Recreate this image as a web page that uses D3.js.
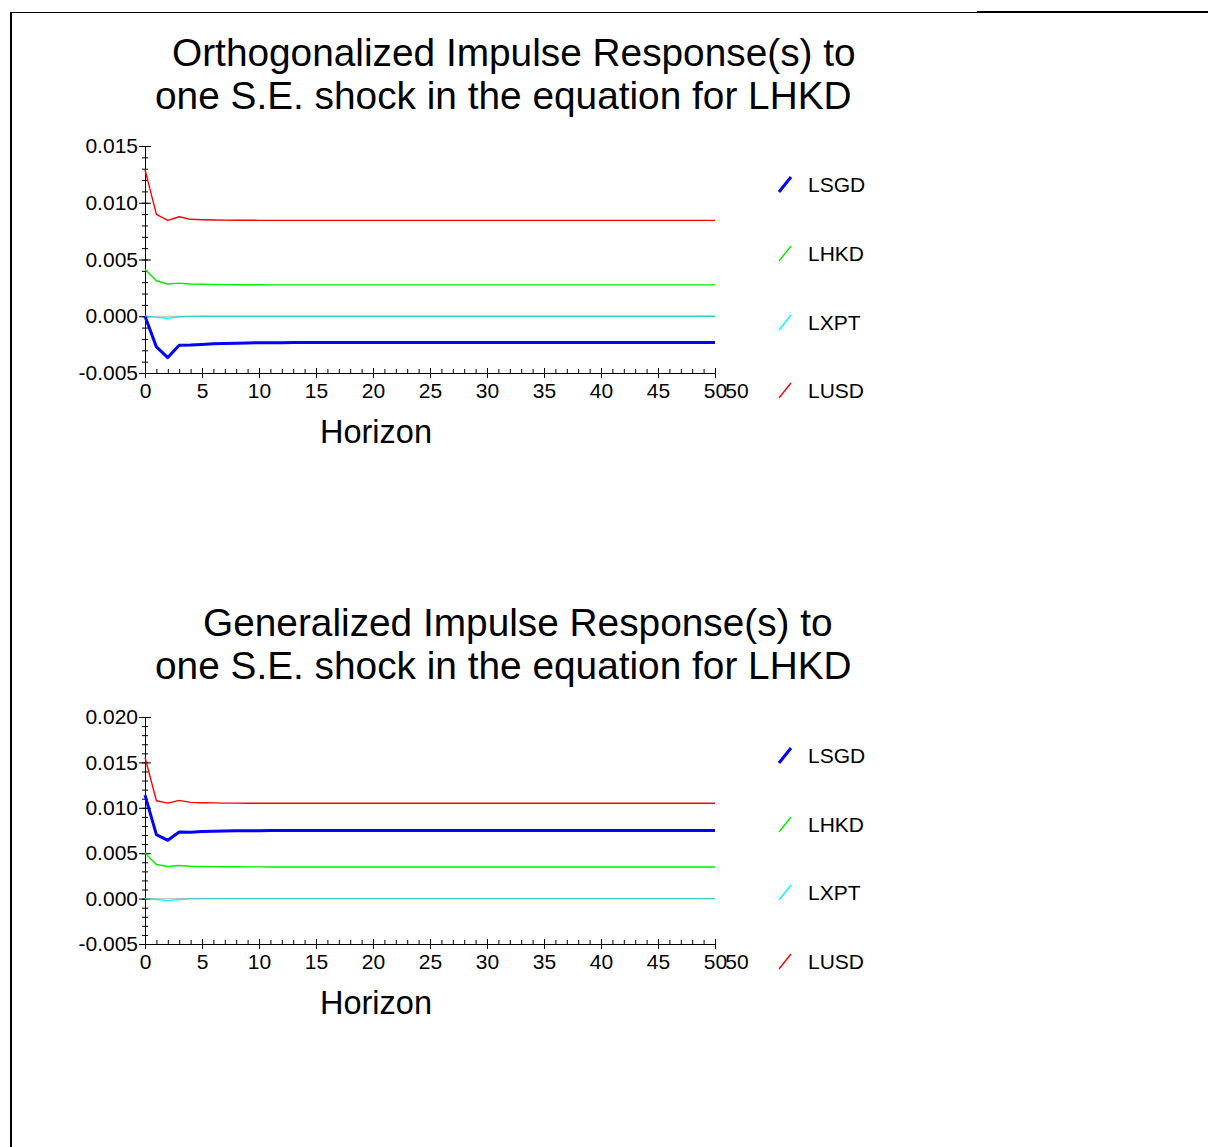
<!DOCTYPE html>
<html lang="en">
  <head>
    <meta charset="UTF-8" />
    <script src="https://d3js.org/d3.v7.min.js"></script>
    <title>Impulse Responses</title>
    <style>
      body { margin: 0; background: #fff; }
      svg text { font-family: "Liberation Sans", Arial, sans-serif; fill: #000; }
      .axis path, .axis line { stroke: #000; stroke-width: 1; }
    </style>
  </head>
  <body>
    <svg width="1208" height="1147"></svg>
    <script type="text/javascript">
      // series names and colours (legend order)
      const seriesNames = ["LSGD", "LHKD", "LXPT", "LUSD"];
      const seriesColors = ["#0000ff", "#00ee00", "#00ffff", "#ff0000"];
      const seriesWidths = [3, 1.4, 1.4, 1.4];

      const xTicks = [0, 5, 10, 15, 20, 25, 30, 35, 40, 45, 50];
      const yTicksOrth = [-0.005, 0.0, 0.005, 0.01, 0.015];
      const yTicksGen = [-0.005, 0.0, 0.005, 0.01, 0.015, 0.02];

      // Orthogonalized responses, horizon 0..50
      const orthLSGD = [
        0, -0.0027, -0.00364, -0.00256, -0.00254, -0.00248, -0.00243, -0.0024, -0.00237, -0.00235,
        -0.00234, -0.00233, -0.00233, -0.00232, -0.00232, -0.00232, -0.00231, -0.00231, -0.00231, -0.00231,
        -0.00231, -0.00231, -0.00231, -0.00231, -0.00231, -0.00231, -0.00231, -0.00231, -0.00231, -0.00231,
        -0.00231, -0.00231, -0.00231, -0.00231, -0.00231, -0.00231, -0.00231, -0.00231, -0.00231, -0.00231,
        -0.00231, -0.00231, -0.00231, -0.00231, -0.00231, -0.00231, -0.00231, -0.00231, -0.00231, -0.00231,
        -0.00231
      ];
      const orthLHKD = [
        0.00415, 0.00313, 0.00284, 0.00292, 0.00284, 0.00282, 0.0028, 0.00279, 0.00278, 0.00277,
        0.00277, 0.00276, 0.00276, 0.00276, 0.00276, 0.00276, 0.00276, 0.00276, 0.00276, 0.00276,
        0.00276, 0.00276, 0.00276, 0.00276, 0.00276, 0.00276, 0.00276, 0.00276, 0.00276, 0.00276,
        0.00276, 0.00276, 0.00276, 0.00276, 0.00276, 0.00276, 0.00276, 0.00276, 0.00276, 0.00276,
        0.00276, 0.00276, 0.00276, 0.00276, 0.00276, 0.00276, 0.00276, 0.00276, 0.00276, 0.00276,
        0.00276
      ];
      const orthLXPT = [
        0, -0.0001, -0.00018, -0.00004, -0.00001, 0, 0, 0, 0, 0,
        0, 0, 0, 0, 0, 0, 0, 0, 0, 0,
        0, 0, 0, 0, 0, 0, 0, 0, 0, 0,
        0, 0, 0, 0, 0, 0, 0, 0, 0, 0,
        0, 0, 0, 0, 0, 0, 0, 0, 0, 0,
        0
      ];
      const orthLUSD = [
        0.01292, 0.00898, 0.00845, 0.00877, 0.00854, 0.0085, 0.00848, 0.00847, 0.00846, 0.00846,
        0.00845, 0.00845, 0.00845, 0.00845, 0.00845, 0.00845, 0.00845, 0.00845, 0.00845, 0.00845,
        0.00845, 0.00845, 0.00845, 0.00845, 0.00845, 0.00845, 0.00845, 0.00845, 0.00845, 0.00845,
        0.00845, 0.00845, 0.00845, 0.00845, 0.00845, 0.00845, 0.00845, 0.00845, 0.00845, 0.00845,
        0.00845, 0.00845, 0.00845, 0.00845, 0.00845, 0.00845, 0.00845, 0.00845, 0.00845, 0.00845,
        0.00845
      ];

      // Generalized responses, horizon 0..50
      const genLSGD = [
        0.0114, 0.00705, 0.00642, 0.00734, 0.00732, 0.00738, 0.00741, 0.00744, 0.00746, 0.00747,
        0.00748, 0.00749, 0.00749, 0.0075, 0.0075, 0.0075, 0.0075, 0.0075, 0.0075, 0.0075,
        0.0075, 0.0075, 0.0075, 0.0075, 0.0075, 0.0075, 0.0075, 0.0075, 0.0075, 0.0075,
        0.0075, 0.0075, 0.0075, 0.0075, 0.0075, 0.0075, 0.0075, 0.0075, 0.0075, 0.0075,
        0.0075, 0.0075, 0.0075, 0.0075, 0.0075, 0.0075, 0.0075, 0.0075, 0.0075, 0.0075,
        0.0075
      ];
      const genLHKD = [
        0.00502, 0.00376, 0.00354, 0.00364, 0.00357, 0.00354, 0.00352, 0.00351, 0.0035, 0.00349,
        0.00349, 0.00348, 0.00348, 0.00348, 0.00348, 0.00348, 0.00348, 0.00348, 0.00348, 0.00348,
        0.00348, 0.00348, 0.00348, 0.00348, 0.00348, 0.00348, 0.00348, 0.00348, 0.00348, 0.00348,
        0.00348, 0.00348, 0.00348, 0.00348, 0.00348, 0.00348, 0.00348, 0.00348, 0.00348, 0.00348,
        0.00348, 0.00348, 0.00348, 0.00348, 0.00348, 0.00348, 0.00348, 0.00348, 0.00348, 0.00348,
        0.00348
      ];
      const genLXPT = [
        0, -0.0001, -0.00022, -0.0001, -0.00003, 0, 0, 0, 0, 0,
        0, 0, 0, 0, 0, 0, 0, 0, 0, 0,
        0, 0, 0, 0, 0, 0, 0, 0, 0, 0,
        0, 0, 0, 0, 0, 0, 0, 0, 0, 0,
        0, 0, 0, 0, 0, 0, 0, 0, 0, 0,
        0
      ];
      const genLUSD = [
        0.01557, 0.01078, 0.01052, 0.01082, 0.0106, 0.01056, 0.01054, 0.01052, 0.01051, 0.0105,
        0.0105, 0.0105, 0.0105, 0.0105, 0.0105, 0.0105, 0.0105, 0.0105, 0.0105, 0.0105,
        0.0105, 0.0105, 0.0105, 0.0105, 0.0105, 0.0105, 0.0105, 0.0105, 0.0105, 0.0105,
        0.0105, 0.0105, 0.0105, 0.0105, 0.0105, 0.0105, 0.0105, 0.0105, 0.0105, 0.0105,
        0.0105, 0.0105, 0.0105, 0.0105, 0.0105, 0.0105, 0.0105, 0.0105, 0.0105, 0.0105,
        0.0105
      ];

      const svg = d3.select("svg");

      // frame lines
      svg.append("line").attr("x1", 10).attr("y1", 12.5).attr("x2", 977).attr("y2", 12.5)
        .attr("stroke", "#000").attr("stroke-width", 1);
      svg.append("line").attr("x1", 977).attr("y1", 12).attr("x2", 1208).attr("y2", 12)
        .attr("stroke", "#000").attr("stroke-width", 2);
      svg.append("line").attr("x1", 11).attr("y1", 12).attr("x2", 11).attr("y2", 1147)
        .attr("stroke", "#000").attr("stroke-width", 2);

      function drawPanel(cfg) {
        const x = d3.scaleLinear().domain([0, 50]).range([145, 715]);
        const y = d3.scaleLinear().domain(cfg.yDomain).range(cfg.yRange);
        const g = svg.append("g");

        // title
        g.append("text").attr("x", cfg.titleX[0]).attr("y", cfg.titleY)
          .style("font-size", "38.8px").text(cfg.title[0]);
        g.append("text").attr("x", cfg.titleX[1]).attr("y", cfg.titleY + 43)
          .style("font-size", "38.8px").text(cfg.title[1]);

        // y axis: minor ticks both sides, major ticks both sides + labels
        const yMinor = y.ticks((cfg.yDomain[1] - cfg.yDomain[0]) / 0.001);
        g.append("g").attr("class", "axis").attr("transform", "translate(145,0)")
          .call(d3.axisLeft(y).tickValues(yMinor).tickSize(3).tickSizeOuter(0).tickFormat(""));
        g.append("g").attr("class", "axis").attr("transform", "translate(145,0)")
          .call(d3.axisRight(y).tickValues(yMinor).tickSize(3).tickSizeOuter(0).tickFormat(""));
        g.append("g").attr("class", "axis").attr("transform", "translate(145,0)")
          .call(d3.axisRight(y).tickValues(cfg.yTicks).tickSize(6).tickSizeOuter(0).tickFormat(""));
        const yAx = g.append("g").attr("class", "axis").attr("transform", "translate(145,0)")
          .call(d3.axisLeft(y).tickValues(cfg.yTicks).tickSize(6).tickPadding(1)
            .tickSizeOuter(0).tickFormat(d3.format(".3f")));
        yAx.selectAll("text").style("font-size", "21px")
          .attr("font-family", null).text((d) => d3.format(".3f")(d).replace("−", "-"));

        // x axis at bottom of plot
        const xBase = cfg.yRange[0];
        g.append("g").attr("class", "axis").attr("transform", `translate(0,${xBase})`)
          .call(d3.axisTop(x).tickValues(x.ticks(50)).tickSize(4).tickSizeOuter(0).tickFormat(""));
        g.append("g").attr("class", "axis").attr("transform", `translate(0,${xBase})`)
          .call(d3.axisTop(x).tickValues(xTicks).tickSize(5).tickSizeOuter(0).tickFormat(""));
        const xAx = g.append("g").attr("class", "axis").attr("transform", `translate(0,${xBase})`)
          .call(d3.axisBottom(x).tickValues(xTicks).tickSize(5).tickPadding(5).tickSizeOuter(0));
        xAx.selectAll("text").style("font-size", "21px").attr("font-family", null);
        // stray end label as in the original output
        g.append("text").attr("x", x(50) + 22).attr("y", xBase + 25)
          .attr("text-anchor", "middle").style("font-size", "21px").text("50");

        g.append("text").attr("x", 320).attr("y", xBase + 70)
          .style("font-size", "32.5px").text("Horizon");

        // series lines
        const line = d3.line().x((d, i) => x(i)).y((d) => y(d));
        const order = [2, 1, 0, 3];
        order.forEach((k) => {
          g.append("path").datum(cfg.series[k]).attr("d", line)
            .attr("fill", "none").attr("stroke", seriesColors[k])
            .attr("stroke-width", seriesWidths[k]).attr("stroke-linejoin", "round");
        });
        // zero reference line
        g.append("line").attr("x1", x(0)).attr("x2", x(50))
          .attr("y1", y(0)).attr("y2", y(0))
          .attr("stroke", "#888").attr("stroke-opacity", 0.55).attr("stroke-width", 1);

        // legend
        seriesNames.forEach((name, k) => {
          const ly = cfg.legendY[k];
          g.append("line").attr("x1", 779).attr("y1", ly + 8).attr("x2", 791).attr("y2", ly - 7)
            .attr("stroke", seriesColors[k]).attr("stroke-width", k === 0 ? 3 : 1.4);
          g.append("text").attr("x", 808).attr("y", ly + 7.5)
            .style("font-size", "21px").text(name);
        });
      }

      drawPanel({
        title: ["Orthogonalized Impulse Response(s) to", "one S.E. shock in the equation for LHKD"],
        titleX: [172, 155],
        titleY: 66,
        yDomain: [-0.005, 0.015],
        yRange: [373, 146],
        yTicks: yTicksOrth,
        series: [orthLSGD, orthLHKD, orthLXPT, orthLUSD],
        legendY: [184, 253, 322, 390]
      });

      drawPanel({
        title: ["Generalized Impulse Response(s) to", "one S.E. shock in the equation for LHKD"],
        titleX: [203, 155],
        titleY: 636,
        yDomain: [-0.005, 0.02],
        yRange: [944, 717],
        yTicks: yTicksGen,
        series: [genLSGD, genLHKD, genLXPT, genLUSD],
        legendY: [755, 824, 892, 961]
      });
    </script>
  </body>
</html>
